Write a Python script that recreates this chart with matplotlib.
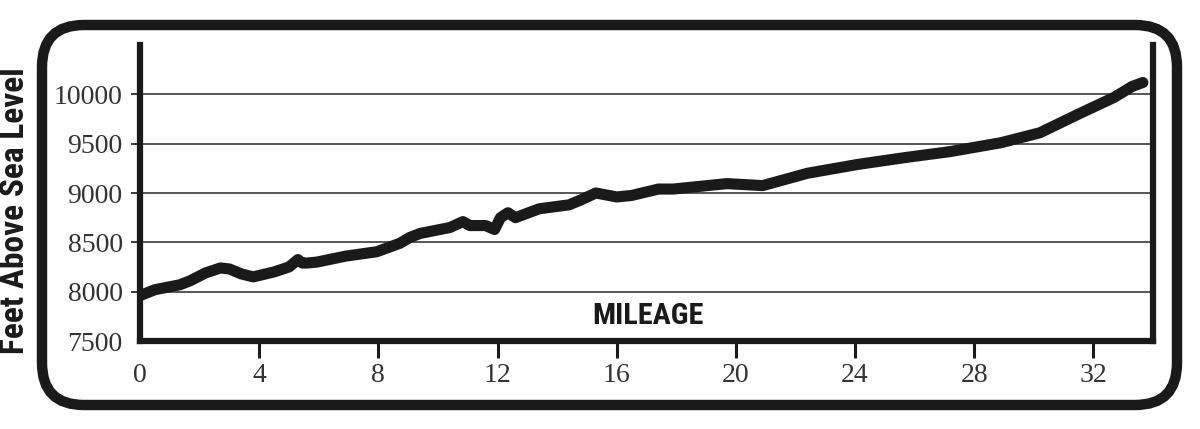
import matplotlib.pyplot as plt
from matplotlib import font_manager
from matplotlib.patches import FancyBboxPatch

# elevation profile
mileage = [0.0, 0.5, 1.34, 1.68, 2.2, 2.7, 3.0, 3.4, 3.8, 4.5, 5.0, 5.3, 5.45, 5.6, 5.94,
           6.9, 7.95, 8.72, 9.06, 9.4, 10.4, 10.84, 11.07, 11.6, 11.9, 12.1, 12.35, 12.6,
           13.4, 14.4, 14.8, 15.3, 16.0, 16.5, 17.4, 17.9, 19.7, 20.9, 22.4, 24.1, 25.7,
           27.2, 28.9, 30.2, 31.5, 32.7, 33.3, 33.66]
elevation = [7960, 8020, 8070, 8110, 8190, 8240, 8230, 8180, 8150, 8200, 8250, 8325, 8290, 8290, 8300,
             8360, 8405, 8490, 8550, 8590, 8650, 8710, 8670, 8670, 8630, 8750, 8800, 8750,
             8840, 8880, 8930, 9000, 8960, 8975, 9040, 9040, 9095, 9075, 9200, 9290, 9360,
             9420, 9510, 9610, 9800, 9970, 10080, 10120]

x_ticks = [0, 4, 8, 12, 16, 20, 24, 28, 32]
y_ticks = [7500, 8000, 8500, 9000, 9500, 10000]

ink = '#1a1a1a'


def pick_narrow_bold():
    # look for any installed condensed / narrow bold face
    best = None
    for f in font_manager.fontManager.ttflist:
        name = (f.name + ' ' + f.fname).lower()
        narrow = ('condensed' in name or 'narrow' in name or
                  f.stretch in ('condensed', 'semi-condensed', 'extra-condensed'))
        bold = f.weight in (700, 800, 900, 'bold', 'heavy', 'black') or 'bold' in f.fname.lower()
        if narrow and bold and 'oblique' not in name and 'italic' not in name:
            if best is None or 'narrow' in name or 'condensed' in f.fname.lower():
                best = f
                if 'liberation' in name or 'roboto' in name:
                    break
    if best is not None:
        return font_manager.FontProperties(fname=best.fname)
    return font_manager.FontProperties(family='DejaVu Sans', weight='bold')


label_prop = pick_narrow_bold()

fig = plt.figure(figsize=(12, 4.29), dpi=100)
ax = fig.add_axes([140/1200, 88/429, 1013/1200, 296/429])

# rounded frame around everything
frame = FancyBboxPatch((0.42, 0.24), 11.35, 3.80, boxstyle='round,pad=0,rounding_size=0.42',
                       transform=fig.dpi_scale_trans, facecolor='none', edgecolor=ink,
                       linewidth=7.5, zorder=0)
fig.patches.append(frame)

# horizontal grid lines
for yv in y_ticks[1:]:
    ax.axhline(yv, color='#3a3a3a', linewidth=1.2, zorder=1)

ax.plot(mileage, elevation, color=ink, linewidth=8, solid_capstyle='round',
        solid_joinstyle='round', zorder=3)

ax.set_xlim(0, 34)
ax.set_ylim(7500, 10500)

ax.spines['top'].set_visible(False)
for side in ['left', 'right', 'bottom']:
    ax.spines[side].set_linewidth(4.5)
    ax.spines[side].set_color(ink)
    ax.spines[side].set_capstyle('projecting')

ax.set_xticks(x_ticks)
ax.set_xticklabels([str(v) for v in x_ticks])
ax.set_yticks(y_ticks)
ax.set_yticklabels([str(v) for v in y_ticks])
ax.tick_params(axis='x', direction='out', length=12, width=2.2, color=ink, pad=4,
               labelsize=20, labelcolor='#333333')
ax.tick_params(axis='y', direction='out', length=6.5, width=1.2, color=ink, pad=6,
               labelsize=20, labelcolor='#333333')
for lab in ax.get_xticklabels() + ax.get_yticklabels():
    lab.set_family(['Liberation Serif', 'DejaVu Serif'])
ax.xaxis.get_major_ticks()[0].tick1line.set_visible(False)
ax.yaxis.get_major_ticks()[0].tick1line.set_visible(False)

mileage_label = ax.text(0.5015, 0.085, 'MILEAGE', transform=ax.transAxes, ha='center',
                        va='center', fontproperties=label_prop, fontsize=23, color=ink)
y_label = fig.text(0.0125, 0.508, 'Feet Above Sea Level', rotation=90, ha='center',
                   va='center', fontproperties=label_prop, fontsize=24, color=ink)

# fit the label lengths to the reference
renderer = fig.canvas.get_renderer()
w = mileage_label.get_window_extent(renderer).width
if w > 112:
    mileage_label.set_fontsize(23 * 112 / w)
h = y_label.get_window_extent(renderer).height
if h > 295:
    y_label.set_fontsize(24 * 295 / h)

fig.savefig('out.png', dpi=100, facecolor='white')
